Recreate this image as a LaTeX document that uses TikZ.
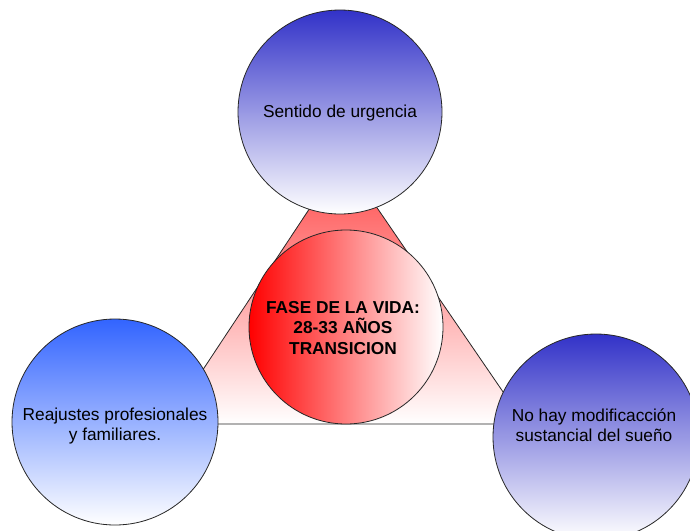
\documentclass[tikz,border=0pt]{standalone}
\usepackage{fontspec}
\setmainfont{Liberation Sans}
\begin{document}
\begin{tikzpicture}[x=1pt,y=-1pt,
  outline/.style={draw=black!85, line width=0.8pt},
  bubble/.style={circle, outline, inner sep=0pt},
  bluebubble/.style={bubble, top color=deepblue, bottom color=white},
  brightbubble/.style={bubble, top color=brightblue, bottom color=white},
  hub/.style={bubble, left color=red, middle color=red!25!white, right color=white},
  caption/.style={align=center, inner sep=0pt, font=\fontsize{17.3}{20}\selectfont},
  hubcaption/.style={caption, font=\fontsize{17.3}{20.5}\selectfont\bfseries}]
\definecolor{deepblue}{RGB}{50,50,200}
\definecolor{brightblue}{RGB}{50,100,255}
\definecolor{warmred}{RGB}{255,70,70}
\useasboundingbox (0,0) rectangle (690,530);
\clip (0,0) rectangle (690,530);

% shaded triangle behind the circles
\coordinate (apex) at (343,158);
\coordinate (baseL) at (167,424);
\coordinate (baseR) at (525,424);
\path[outline, top color=warmred, middle color=warmred!30!white, bottom color=white]
  (apex) -- (baseL) -- (baseR) -- cycle;

% outer circles
\node[bluebubble, minimum size=204pt] (top) at (340,112) {};
\node[brightbubble, minimum size=206pt] (left) at (115,422) {};
\node[bluebubble, minimum size=206pt] (right) at (596,437) {};

% central circle
\node[hub, minimum size=194pt] (hub) at (346,327) {};

% texts
\node[caption] (topText) at (340,113) {Sentido de urgencia};
\node[caption] (leftText) at (115,426) {Reajustes profesionales\\y familiares.};
\node[caption] (rightText) at (594,425) {No hay modificacción\\sustancial del sueño};
\node[hubcaption] (hubText) at (343,328) {FASE DE LA VIDA:\\28-33 AÑOS\\TRANSICION};
\end{tikzpicture}
\end{document}
